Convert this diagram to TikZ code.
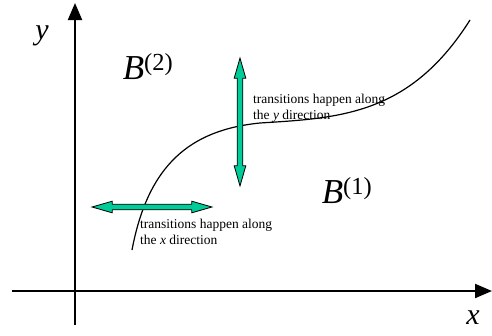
\documentclass[tikz,border=0pt]{standalone}
\usepackage{fontspec}
\setmainfont{Liberation Serif}
\usepackage{xcolor}
\usetikzlibrary{positioning,shapes.arrows,arrows.meta}
\definecolor{arrowgreen}{RGB}{0,204,153}
\tikzset{
    axis/.style={line width=2pt, -{Triangle[length=17pt, width=14pt]}},
    dirarrow/.style={double arrow, draw, fill=arrowgreen, line width=0.8pt,
        minimum height=120pt, minimum width=11pt, inner sep=2.4pt,
        double arrow tip angle=32, double arrow head extend=3pt},
    note/.style={font=\fontsize{13.5}{16}\selectfont, align=left, inner sep=0pt, anchor=north west},
    region/.style={font=\fontsize{35}{35}\selectfont}
}
\begin{document}
\begin{tikzpicture}[x=1pt, y=-1pt]
    \useasboundingbox (0,0) rectangle (492,335);
    % Achsen
    \coordinate (ybot) at (75,325);
    \coordinate (ytop) at (75,3);
    \coordinate (xleft) at (12,291);
    \coordinate (xright) at (492,291);
    \draw[axis] (ybot) -- (ytop);
    \draw[axis] (xleft) -- (xright);
    \node[font=\fontsize{30}{30}\selectfont\itshape] (ylab) at (42,36) {y};
    \node[font=\fontsize{30}{30}\selectfont\itshape] (xlab) at (473,318) {x};

    % Grenzkurve
    \coordinate (cstart) at (132,250);
    \coordinate (cmid) at (260,123);
    \coordinate (cend) at (470,20);
    \draw[line width=1.2pt] (cstart) .. controls (148,165) and (190,130) .. (cmid)
        .. controls (340,118) and (410,115) .. (cend);

    % Gebiete
    \node[region] (b2) at (148,67) {\textit{B}\textsuperscript{(2)}};
    \node[region] (b1) at (347,191) {\textit{B}\textsuperscript{(1)}};

    % Richtungspfeile
    \node[dirarrow] (harrow) at (152,207) {};
    \node[dirarrow, rotate=90, minimum height=128pt] (varrow) at (240,122) {};

    % Beschriftungen
    \node[note] (ynote) at (253,94) {transitions happen along\\the \textit{y} direction};
    \node[note] (xnote) at (140,219) {transitions happen along\\the \textit{x} direction};
\end{tikzpicture}
\end{document}
